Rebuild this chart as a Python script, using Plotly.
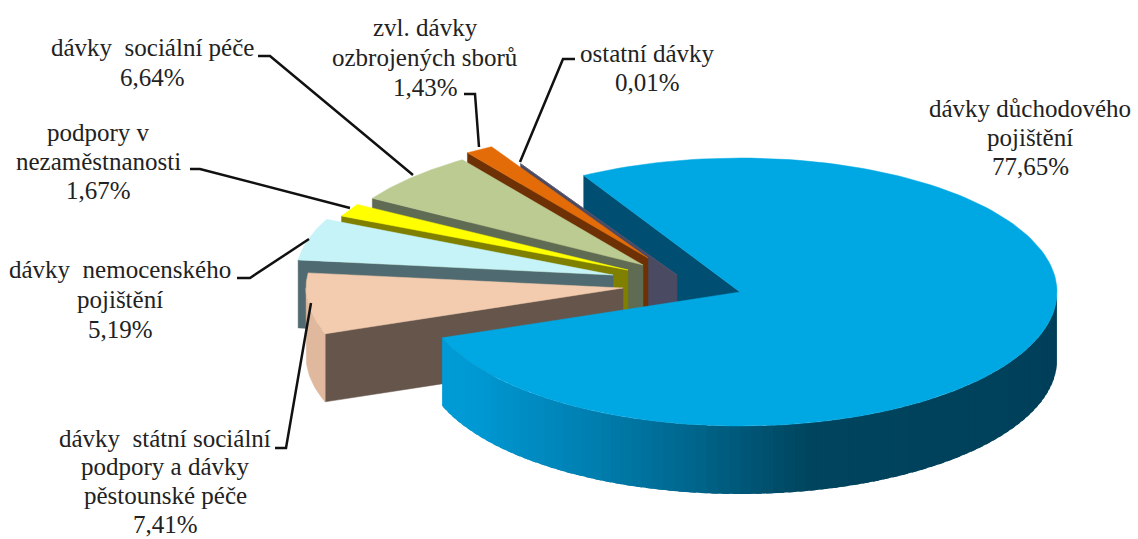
import math
import plotly.graph_objects as go

# ---- data ----
names = ["dávky státní sociální podpory a dávky pěstounské péče", "dávky nemocenského pojištění",
         "podpory v nezaměstnanosti", "dávky sociální péče", "zvl. dávky ozbrojených sborů",
         "ostatní dávky", "dávky důchodového pojištění"]
shares = [7.41, 5.19, 1.67, 6.64, 1.43, 0.01, 77.65]
share_labels = ["7,41%", "5,19%", "1,67%", "6,64%", "1,43%", "0,01%", "77,65%"]

# ---- look: 3D projection of the exploded pie in page pixels ----
W, H = 1138, 539
RX, RB_FRONT, DEPTH = 317, 134, 68
START = 250.0
style = [  # apex x, apex y, back radius, top, start wall, outer wall
    dict(ax=623, ay=288, rb=130, top="#F3CBAE", wall="#66554A", outer="#DFB89E"),
    dict(ax=613, ay=275, rb=130, top="#C6F3F7", wall="#4F6A70", outer="#9CC4C8"),
    dict(ax=628, ay=270, rb=126, top="#FFFF00", wall="#7F7F00", outer="#7F7F00"),
    dict(ax=643, ay=265, rb=128, top="#BCCB92", wall="#5F6B52", outer="#8A9668"),
    dict(ax=648, ay=258, rb=128, top="#E36C09", wall="#6E3005", outer="#9A4A08"),
    dict(ax=677, ay=275, rb=128, top="#5A5870", wall="#4A4A62", outer="#4A4A62"),
    dict(ax=740, ay=292, rb=134, top="#00A8E3", wall="#004F72", outer="#0090C4"),
]
BLUE_SHADES = [(90, (0, 62, 88)), (168, (0, 68, 94)), (192, (0, 106, 146)), (212, (0, 131, 182)),
               (237, (0, 153, 212)), (255, (0, 155, 215))]

label_lines = [
    (["dávky  státní sociální", "podpory a dávky", "pěstounské péče"], 165, 438, 28.7),
    (["dávky  nemocenského", "pojištění"], 120, 269, 30),
    (["podpory v", "nezaměstnanosti"], 98, 132, 29),
    (["dávky  sociální péče"], 152, 47, 30),
    (["zvl. dávky", "ozbrojených sborů"], 425, 27, 30),
    (["ostatní dávky"], 647, 53, 29),
    (["dávky důchodového", "pojištění"], 1030, 108, 29),
]
leaders = [
    ([275, 286, 311], [448, 448, 303]),
    ([237, 250, 309], [278, 278, 239]),
    ([190, 200, 350], [169, 169, 208]),
    ([258, 270, 413], [56, 56, 175]),
    ([464, 475, 479], [94, 94, 147]),
    ([575, 563, 520], [59, 59, 162]),
]


def pt(s, ang, drop=0.0):
    r = math.radians(ang)
    up = math.cos(r)
    by = s["rb"] if up > 0 else RB_FRONT
    return s["ax"] + RX * math.sin(r), s["ay"] - by * up + drop


def poly(fig, pts, color, lw=0.5):
    xs = [p[0] for p in pts] + [pts[0][0]]
    ys = [p[1] for p in pts] + [pts[0][1]]
    fig.add_trace(go.Scatter(x=xs, y=ys, mode="lines", fill="toself", fillcolor=color,
                             line=dict(color=color, width=lw), hoverinfo="skip", showlegend=False))


def shade(ang):
    for (a0, c0), (a1, c1) in zip(BLUE_SHADES, BLUE_SHADES[1:]):
        if a0 <= ang <= a1:
            t = (ang - a0) / (a1 - a0)
            return "rgb(%d,%d,%d)" % tuple(round(u + (v - u) * t) for u, v in zip(c0, c1))
    return "rgb(%d,%d,%d)" % BLUE_SHADES[-1][1]


spans, cur = [], START
for v in shares:
    spans.append((cur, cur + v * 3.6))
    cur += v * 3.6


def arc(s, a0, a1, drop=0.0, n=60):
    return [pt(s, a0 + (a1 - a0) * i / n, drop) for i in range(n + 1)]


fig = go.Figure()
blue_i = len(shares) - 1
blue_s = style[blue_i]
b0, b1 = spans[blue_i]
# inner wall of the large slice first, at the very back
c = pt(blue_s, b0)
poly(fig, [c, (blue_s["ax"], blue_s["ay"]), (blue_s["ax"], blue_s["ay"] + DEPTH), (c[0], c[1] + DEPTH)], blue_s["wall"])

# small slices, back to front
for i in range(blue_i - 1, -1, -1):
    s = style[i]
    a0, a1 = spans[i]
    c = pt(s, a0)
    poly(fig, [c, (s["ax"], s["ay"]), (s["ax"], s["ay"] + DEPTH), (c[0], c[1] + DEPTH)], s["wall"])
    if a0 < 270:
        e = min(a1, 270)
        poly(fig, arc(s, a0, e, 0, 20) + arc(s, e, a0, DEPTH, 20), s["outer"])
    poly(fig, [(s["ax"], s["ay"])] + arc(s, a0, a1), s["top"])

# outer wall of the large slice, shaded strip by strip, then its top
lo = 90.0
hi = b1 - 360
N = 80
for k in range(N):
    a = lo + (hi - lo) * k / N
    e = lo + (hi - lo) * (k + 1.6) / N if k < N - 1 else hi
    poly(fig, [pt(blue_s, a), pt(blue_s, e), pt(blue_s, e, DEPTH), pt(blue_s, a, DEPTH)], shade((a + e) / 2), lw=0)
poly(fig, [(blue_s["ax"], blue_s["ay"])] + arc(blue_s, b0, b1, 0, 160), blue_s["top"])

# leader lines
for lx, ly in leaders:
    fig.add_trace(go.Scatter(x=lx, y=ly, mode="lines", line=dict(color="#111111", width=2.5),
                             hoverinfo="skip", showlegend=False))

# labels
for (lines, cx, y0, gap), val in zip(label_lines, share_labels):
    for j, t in enumerate(lines + [val]):
        fig.add_annotation(x=cx, y=y0 + j * gap, text=t, showarrow=False, xanchor="center", yanchor="middle",
                           font=dict(family="Liberation Serif", size=25, color="#222222"))

fig.update_layout(
    width=W, height=H, margin=dict(l=0, r=0, t=0, b=0), autosize=False,
    paper_bgcolor="white", plot_bgcolor="white", showlegend=False,
    xaxis=dict(range=[0, W], visible=False, fixedrange=True),
    yaxis=dict(range=[H, 0], visible=False, fixedrange=True),
)
fig.write_html("out.html", config=dict(displayModeBar=False),
               post_script="document.body.style.margin='0';document.body.style.overflow='hidden';")
